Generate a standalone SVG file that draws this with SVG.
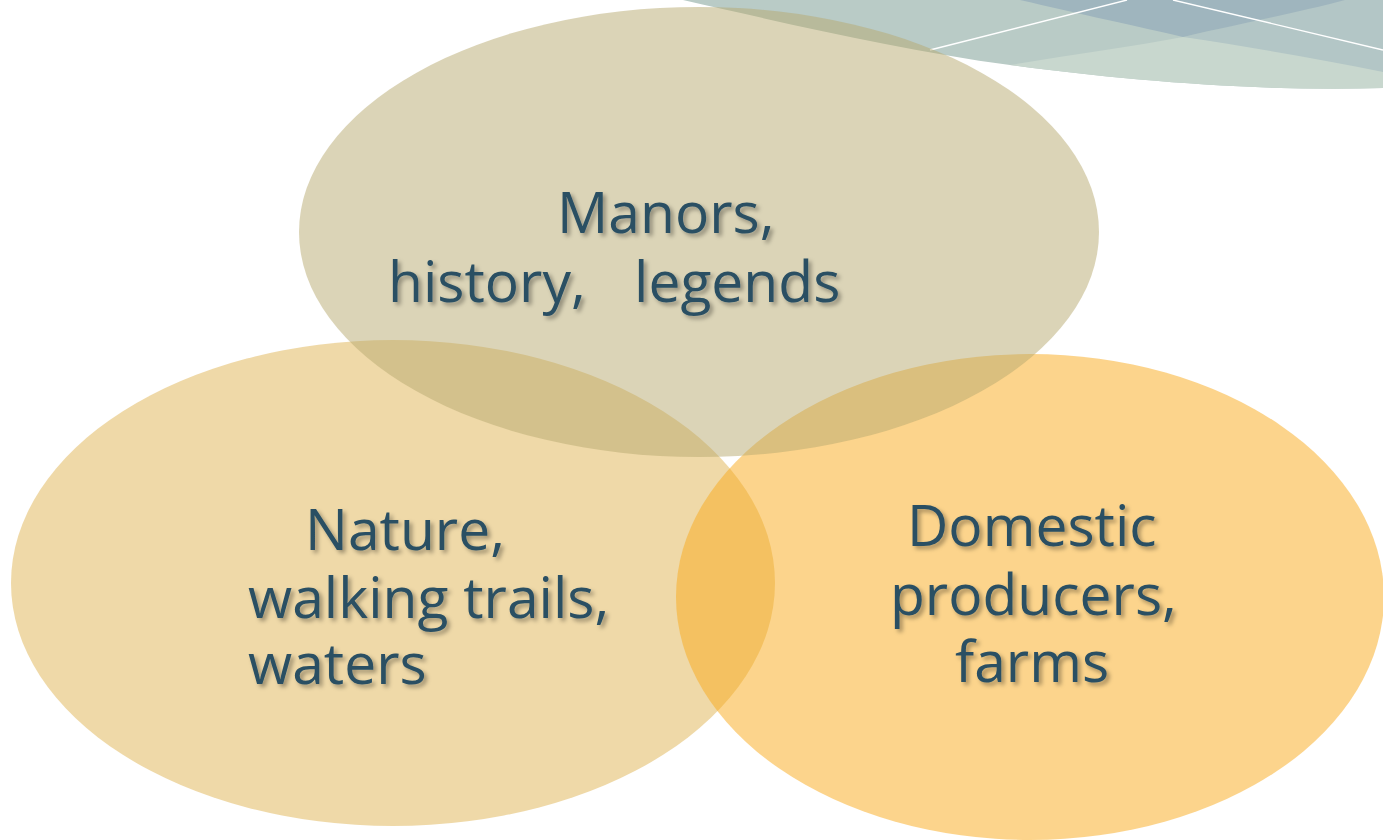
<svg xmlns="http://www.w3.org/2000/svg" width="1383" height="840" viewBox="0 0 1383 840">
  <defs>
    <filter id="shadow" x="-10%" y="-20%" width="130%" height="150%">
      <feDropShadow dx="3" dy="3" stdDeviation="2" flood-color="#000" flood-opacity="0.35"/>
    </filter>
    <style>
      .lbl { font-family: "Open Sans", "Liberation Sans", sans-serif; font-size: 57px; fill: #2A4F63; filter: url(#shadow); }
      .set { fill-opacity: 0.5; }
      .wline { stroke: #ffffff; stroke-width: 1.4; fill: none; }
    </style>
  </defs>
  <rect width="1383" height="840" fill="#ffffff"/>

  <g id="decoration">
    <path d="M683,0 L1383,0 L1383,88 C1260,92 1120,80 1010,65 C900,50 780,22 683,0 Z" fill="#B9CBC6"/>
    <path d="M1183,37 L1345,0 L1383,0 L1383,72 Z" fill="#B3C6C6"/>
    <path d="M1010,65 C1070,55 1130,47 1183,37 C1250,47 1320,59 1383,72 L1383,88 C1260,92 1120,80 1010,65 Z" fill="#C8D7CE"/>
    <path d="M1020,0 C1080,14 1140,27 1183,37 C1240,24 1300,12 1345,0 Z" fill="#9FB5BE"/>
    <path class="wline" d="M930,50 L1127,0"/>
    <path class="wline" d="M1173,0 L1383,50"/>
  </g>

  <g id="connectors"></g>

  <g id="node-nature">
    <ellipse class="set" cx="393" cy="583" rx="382" ry="243" fill="#DFB351"/>
    <text class="lbl"><tspan x="305" y="550">Nature,</tspan><tspan x="248" y="618">walking trails,</tspan><tspan x="248" y="684">waters</tspan></text>
  </g>

  <g id="node-domestic">
    <ellipse class="set" cx="1030" cy="597" rx="354" ry="243" fill="#F9A919"/>
    <text class="lbl"><tspan x="907" y="546">Domestic</tspan><tspan x="890" y="615">producers,</tspan><tspan x="955" y="682">farms</tspan></text>
  </g>

  <g id="node-manors">
    <ellipse class="set" cx="699" cy="232" rx="400" ry="225" fill="#B7A96F"/>
    <text class="lbl"><tspan x="557" y="233">Manors,</tspan><tspan x="388" y="302">history,</tspan><tspan x="634" y="302">legends</tspan></text>
  </g>
</svg>
